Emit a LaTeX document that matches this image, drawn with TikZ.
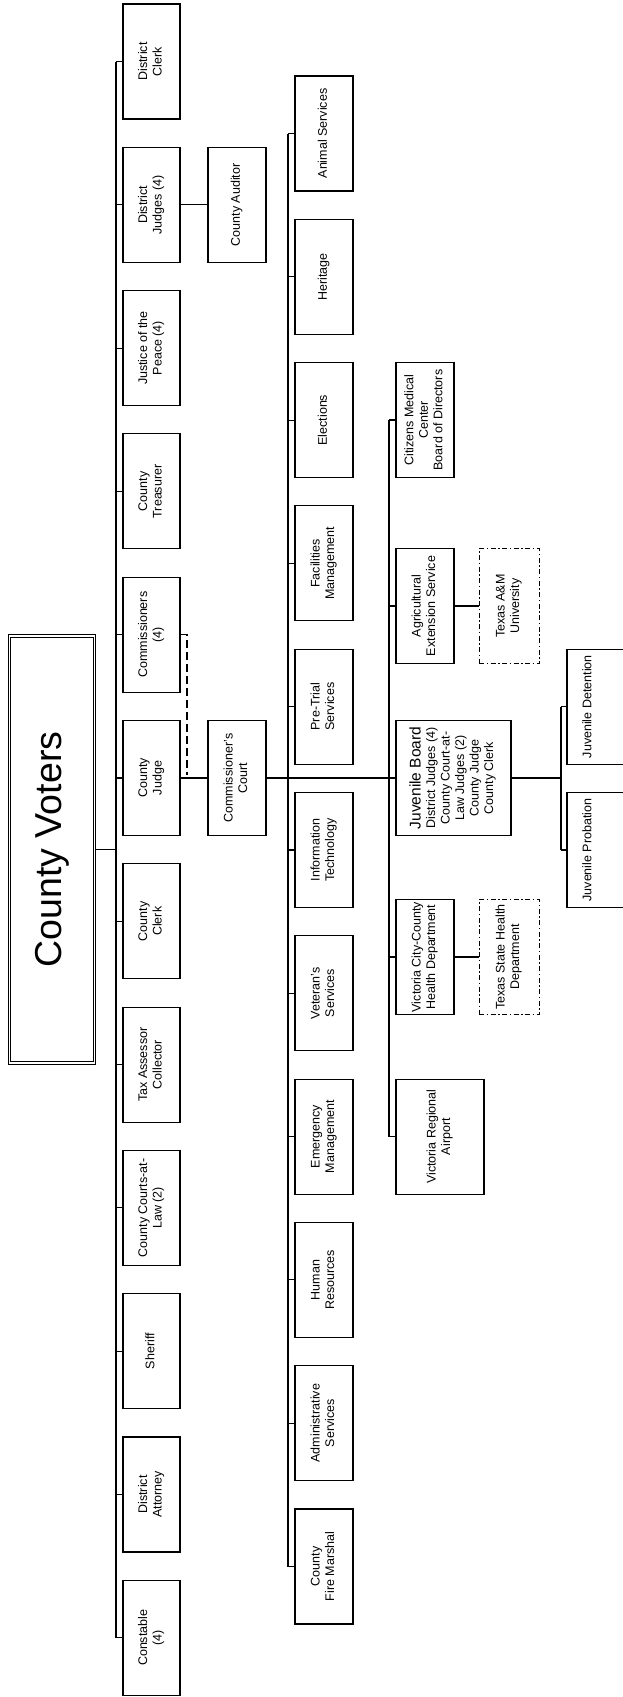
\documentclass[tikz,border=0pt]{standalone}
\usepackage{fontspec}
\setmainfont{Liberation Sans}
\usepackage{graphicx}
\newcommand\rt[1]{\rotatebox{90}{\begin{tabular}{@{}c@{}}#1\end{tabular}}}
\begin{document}
\begin{tikzpicture}[x=1pt,y=-1pt,
  box/.style={draw, line width=1.1pt, inner sep=0pt, minimum width=58pt, minimum height=115pt, font=\fontsize{12.5}{14.5}\selectfont},
  dbox/.style={box, dash pattern=on 5pt off 2.5pt on 1.5pt off 2.5pt, line width=1pt},
  conn/.style={line width=1.1pt},
  lbl/.style={rotate=90, inner sep=0pt, font=\fontsize{12.5}{14.5}\selectfont},
]
\useasboundingbox (0,0) rectangle (622,1697);
% County Voters
\node[draw, double, double distance=1.6pt, line width=0.8pt, minimum width=85pt, minimum height=427pt, inner sep=0pt,
  font=\fontsize{37.5}{40}\selectfont] (voters) at (52,849.5) {\rotatebox{90}{County Voters}};
% column 1
\node[box, minimum width=57pt] (c1a) at (151.5,61.5)  {\rt{District\\Clerk}};
\node[box, minimum width=57pt] (c1b) at (151.5,204.8) {\rt{District\\Judges (4)}};
\node[box, minimum width=57pt] (c1c) at (151.5,348.1) {\rt{Justice of the\\Peace (4)}};
\node[box, minimum width=57pt] (c1d) at (151.5,491.4) {\rt{County\\Treasurer}};
\node[box, minimum width=57pt] (c1e) at (151.5,634.7) {\rt{Commissioners\\(4)}};
\node[box, minimum width=57pt] (c1f) at (151.5,778)   {\rt{County\\Judge}};
\node[box, minimum width=57pt] (c1g) at (151.5,921.3) {\rt{County\\Clerk}};
\node[box, minimum width=57pt] (c1h) at (151.5,1064.6){\rt{Tax Assessor\\Collector}};
\node[box, minimum width=57pt] (c1i) at (151.5,1207.9){\rt{County Courts-at-\\Law (2)}};
\node[box, minimum width=57pt] (c1j) at (151.5,1351.2){\rt{Sheriff}};
\node[box, minimum width=57pt] (c1k) at (151.5,1494.5){\rt{District\\Attorney}};
\node[box, minimum width=57pt] (c1l) at (151.5,1637.8){\rt{Constable\\(4)}};
\coordinate (b1t) at (116,61.5);
\coordinate (b1b) at (116,1637.8);
\draw[conn] (b1t) -- (b1b);
\foreach \n in {c1a,c1b,c1c,c1d,c1e,c1f,c1g,c1h,c1i,c1j,c1k,c1l}
  \draw[conn] (\n.west) -- (\n.west -| b1t);
\draw[conn] (voters.east) -- (voters.east -| b1t);
% column 2
\node[box] (aud) at (237,204.8) {\rt{County Auditor}};
\node[box] (cc)  at (237,778)   {\rt{Commissioner's\\Court}};
\draw[conn] (c1b.east) -- (aud.west);
\draw[conn] (c1f.east) -- (cc.west);
\coordinate (dashend) at (187,775);
\draw[conn, dash pattern=on 8pt off 4pt] (c1e.east) -| (dashend);
% column 3
\node[box] (d1)  at (324,133.5)  {\rt{Animal Services}};
\node[box] (d2)  at (324,276.8)  {\rt{Heritage}};
\node[box] (d3)  at (324,420.1)  {\rt{Elections}};
\node[box] (d4)  at (324,563.4)  {\rt{Facilities\\Management}};
\node[box] (d5)  at (324,706.7)  {\rt{Pre-Trial\\Services}};
\node[box] (d6)  at (324,850)    {\rt{Information\\Technology}};
\node[box] (d7)  at (324,993.3)  {\rt{Veteran's\\Services}};
\node[box] (d8)  at (324,1136.6) {\rt{Emergency\\Management}};
\node[box] (d9)  at (324,1279.9) {\rt{Human\\Resources}};
\node[box] (d10) at (324,1423.2) {\rt{Administrative\\Services}};
\node[box] (d11) at (324,1566.5) {\rt{County\\Fire Marshal}};
\coordinate (b3t) at (288,133.5);
\coordinate (b3b) at (288,1566.5);
\draw[conn] (b3t) -- (b3b);
\foreach \n in {d1,d2,d3,d4,d5,d6,d7,d8,d9,d10,d11}
  \draw[conn] (\n.west) -- (\n.west -| b3t);
% column 4
\node[box] (cm) at (425,420)  {\rt{Citizens Medical\\Center\\Board of Directors}};
\node[box] (ag) at (425,606)  {\rt{Agricultural\\Extension Service}};
\node[box, minimum width=115pt] (jb) at (453.5,778) {\rt{{\fontsize{15.5}{16}\selectfont Juvenile Board}\\District Judges (4)\\County Court-at-\\Law Judges (2)\\County Judge\\County Clerk}};
\node[box] (hd) at (425,957)  {\rt{Victoria City-County\\Health Department}};
\node[box, minimum width=88pt] (ap) at (440,1136.6) {\rt{Victoria Regional\\Airport}};
\coordinate (b4t) at (389,420);
\coordinate (b4b) at (389,1136.6);
\draw[conn] (b4t) -- (b4b);
\foreach \n in {cm,ag,hd,ap}
  \draw[conn] (\n.west) -- (\n.west -| b4t);
\draw[conn] (cc.east) -- (jb.west);
% external agencies
\node[dbox, minimum width=60pt] (tam) at (509,606) {\rt{Texas A\&M\\University}};
\node[dbox, minimum width=60pt] (tsh) at (509,957) {\rt{Texas State Health\\Department}};
\draw[conn] (ag.east) -- (tam.west);
\draw[conn] (hd.east) -- (tsh.west);
% column 5
\node[box, minimum width=113pt] (jd) at (623.5,706.7) {};
\node[box, minimum width=113pt] (jp) at (623.5,850) {};
\node[lbl] (jdl) at (587,706.7) {Juvenile Detention};
\node[lbl] (jpl) at (587,850) {Juvenile Probation};
\coordinate (b5t) at (561,706.7);
\coordinate (b5b) at (561,850);
\draw[conn] (b5t) -- (b5b);
\draw[conn] (jd.west) -- (jd.west -| b5t);
\draw[conn] (jp.west) -- (jp.west -| b5t);
\draw[conn] (jb.east) -- (jb.east -| b5t);
\end{tikzpicture}
\end{document}
